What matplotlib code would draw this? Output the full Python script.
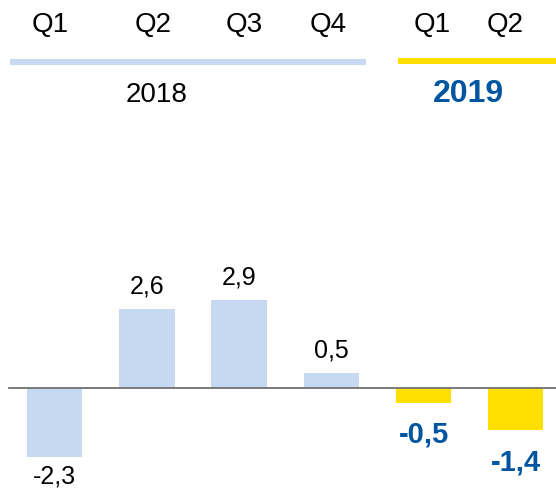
import matplotlib
matplotlib.use("Agg")
import matplotlib.pyplot as plt

# data
quarters = ["Q1", "Q2", "Q3", "Q4", "Q1", "Q2"]
years = ["2018", "2018", "2018", "2018", "2019", "2019"]
values = [-2.3, 2.6, 2.9, 0.5, -0.5, -1.4]
labels = ["-2,3", "2,6", "2,9", "0,5", "-0,5", "-1,4"]

light_blue = "#C6D9F1"
yellow = "#FFDF00"
dark_blue = "#0055A0"

plt.rcParams["font.family"] = ["Liberation Sans", "DejaVu Sans"]

fig = plt.figure(figsize=(5.56, 4.88), dpi=100)
ax = fig.add_axes([0, 0, 1, 1])

x = list(range(len(values)))
colors = [light_blue if y == "2018" else yellow for y in years]
ax.bar(x, values, width=0.6, color=colors, zorder=2)
ax.axhline(0, xmin=(-0.5 + 0.593) / 6.03, xmax=1, color="#707070", lw=1.3, zorder=3)

for xi, v, lab, y in zip(x, values, labels, years):
    if y == "2019":
        ax.annotate(lab, (xi, v), xytext=(0, -23), textcoords="offset points",
                    ha="center", va="center", fontsize=21, fontweight="bold", color=dark_blue)
    else:
        off = 16 if v > 0 else -14
        ax.annotate(lab, (xi, v), xytext=(0, off), textcoords="offset points",
                    ha="center", va="center", fontsize=18, color="black")

# header: quarters, year lines, year labels
q_nudge = [-3.5, 4.5, 3.5, -2.5, 6.5, -7.5]  # points, labels are not exactly over the bars
for xi, q, dx in zip(x, quarters, q_nudge):
    ax.annotate(q, (xi, 11.97), xytext=(dx, 0), textcoords="offset points",
                ha="center", va="center", fontsize=20, color="black")

ax.plot([-0.485, 3.376], [10.75, 10.75], color=light_blue, lw=4.3, solid_capstyle="butt")
ax.plot([3.727, 5.5], [10.78, 10.78], color=yellow, lw=4.3, solid_capstyle="butt")
ax.text(1.1, 9.66, "2018", ha="center", va="center", fontsize=20, color="black")
ax.text(4.49, 9.7, "2019", ha="center", va="center", fontsize=23, fontweight="bold", color=dark_blue)

ax.set_xlim(-0.593, 5.437)
ax.set_ylim(-3.31, 12.8)
ax.axis("off")

fig.savefig("out.png", dpi=100)
